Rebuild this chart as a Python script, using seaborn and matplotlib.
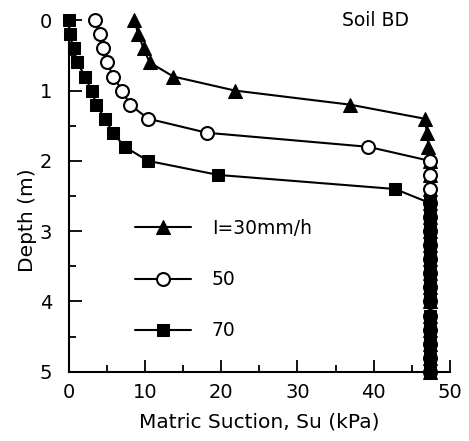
import matplotlib
matplotlib.use("Agg")
import matplotlib.pyplot as plt
import seaborn as sns
import pandas as pd
from matplotlib.ticker import MultipleLocator

# Depth below ground surface (m), sampled every 0.2 m
depth = [0.0, 0.2, 0.4, 0.6, 0.8, 1.0, 1.2, 1.4, 1.6, 1.8, 2.0, 2.2, 2.4,
         2.6, 2.8, 3.0, 3.2, 3.4, 3.6, 3.8, 4.0, 4.2, 4.4, 4.6, 4.8, 5.0]

# Matric suction profiles (kPa) for three rainfall intensities
su_30 = [8.6, 9.1, 9.8, 10.6, 13.7, 21.8, 36.9, 46.7, 47.0, 47.2, 47.4, 47.4, 47.4,
         47.4, 47.4, 47.4, 47.4, 47.4, 47.4, 47.4, 47.4, 47.4, 47.4, 47.4, 47.4, 47.4]
su_50 = [3.4, 4.1, 4.5, 5.0, 5.8, 7.0, 8.0, 10.4, 18.1, 39.3, 47.4, 47.4, 47.4,
         47.4, 47.4, 47.4, 47.4, 47.4, 47.4, 47.4, 47.4, 47.4, 47.4, 47.4, 47.4, 47.4]
su_70 = [0.0, 0.1, 0.6, 1.1, 2.1, 3.0, 3.6, 4.7, 5.8, 7.3, 10.4, 19.6, 42.8,
         47.4, 47.4, 47.4, 47.4, 47.4, 47.4, 47.4, 47.4, 47.4, 47.4, 47.4, 47.4, 47.4]

labels = ["I=30mm/h", "50", "70"]

sns.set_style("ticks")
plt.rcParams["font.family"] = ["DejaVu Sans"]
plt.rcParams["font.size"] = 13
plt.rcParams["text.color"] = "black"
plt.rcParams["axes.labelcolor"] = "black"
plt.rcParams["xtick.color"] = "black"
plt.rcParams["ytick.color"] = "black"

fig = plt.figure(figsize=(4.69, 4.41), dpi=100)
ax = fig.add_axes([0.147, 0.157, 0.812, 0.797])

styles = [
    dict(marker="^", markersize=9.5, markerfacecolor="black", markeredgecolor="black"),
    dict(marker="o", markersize=9.3, markerfacecolor="white", markeredgecolor="black",
         markeredgewidth=1.5),
    dict(marker="s", markersize=9.0, markerfacecolor="black", markeredgecolor="black"),
]

for su, lab, st in zip([su_30, su_50, su_70], labels, styles):
    df = pd.DataFrame({"su": su, "depth": depth})
    sns.lineplot(data=df, x="su", y="depth", sort=False, estimator=None,
                 color="black", linewidth=1.5, label=lab, ax=ax,
                 clip_on=False, **st)

ax.set_xlim(0, 50)
ax.set_ylim(5, 0)

ax.xaxis.set_major_locator(MultipleLocator(10))
ax.xaxis.set_minor_locator(MultipleLocator(5))
ax.yaxis.set_major_locator(MultipleLocator(1))
ax.yaxis.set_minor_locator(MultipleLocator(0.5))

ax.tick_params(axis="both", which="major", direction="in", length=9, width=1.3,
               labelsize=14, color="black", labelcolor="black")
ax.tick_params(axis="both", which="minor", direction="in", length=5, width=1.3,
               color="black")
ax.tick_params(axis="x", which="major", pad=8)
ax.tick_params(axis="y", which="major", pad=12)

sns.despine(ax=ax, top=True, right=True)
for side in ("left", "bottom"):
    ax.spines[side].set_linewidth(1.5)
    ax.spines[side].set_color("black")

ax.set_xlabel("Matric Suction, Su (kPa)", fontsize=14.5, color="black")
ax.xaxis.set_label_coords(0.5, -0.115)
ax.set_ylabel("Depth (m)", fontsize=14.5, color="black")
ax.yaxis.set_label_coords(-0.085, 0.43)

ax.text(40.2, 0.0, "Soil BD", ha="center", va="center", fontsize=13.5, color="black")

ax.legend(loc="upper left", bbox_to_anchor=(0.173, 0.435), frameon=False,
          borderpad=0, borderaxespad=0, handlelength=3.0, handletextpad=1.1,
          labelspacing=1.72, fontsize=13.5, labelcolor="black")

fig.savefig("out.png", dpi=100)
